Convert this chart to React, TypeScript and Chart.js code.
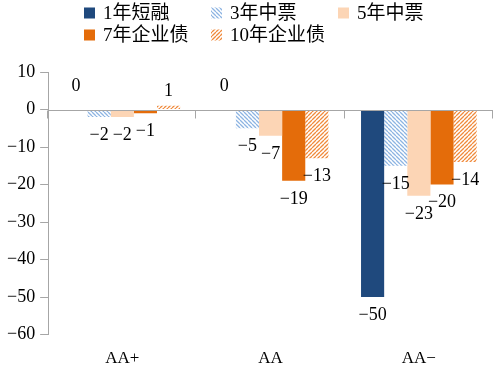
import React, { useEffect, useRef } from "react";
import { Chart, registerables } from "chart.js";

Chart.register(...registerables);

const categories = ["AA+", "AA", "AA\u2212"];
const seriesNames = ["1年短融", "3年中票", "5年中票", "7年企业债", "10年企业债"];
const shortTerm1Y = [0, 0, -50];
const mtn3Y = [-2, -5, -15];
const mtn5Y = [-2, -7, -23];
const corp7Y = [-1, -19, -20];
const corp10Y = [1, -13, -14];
const yMin = -60;
const yMax = 10;
const yStep = 10;

const FONT = "'Liberation Serif', 'Times New Roman', 'Noto Sans CJK SC', serif";
const AXIS_GRAY = "#a6a6a6";

function hatch(color: string, dir: "back" | "fwd"): CanvasPattern | string {
  const size = 4;
  const c = document.createElement("canvas");
  c.width = size;
  c.height = size;
  const g = c.getContext("2d");
  if (!g) return color;
  g.fillStyle = "#ffffff";
  g.fillRect(0, 0, size, size);
  g.strokeStyle = color;
  g.lineWidth = 1.3;
  g.beginPath();
  for (const k of [-size, 0, size]) {
    if (dir === "back") {
      g.moveTo(k, 0);
      g.lineTo(k + size, size);
    } else {
      g.moveTo(k, size);
      g.lineTo(k + size, 0);
    }
  }
  g.stroke();
  const p = g.createPattern(c, "repeat");
  return p || color;
}

const fmt = (v: number) => String(v).replace("-", "\u2212");

const legendPlugin = {
  id: "gridLegend",
  afterDraw(chart: any) {
    const ctx = chart.ctx;
    const left = 84;
    const colW = 127;
    const rowH = 22;
    const top = 13;
    ctx.save();
    ctx.font = `19px ${FONT}`;
    ctx.textBaseline = "middle";
    ctx.textAlign = "left";
    chart.data.datasets.forEach((ds: any, i: number) => {
      const col = i % 3;
      const row = Math.floor(i / 3);
      const x = left + col * colW;
      const y = top + row * rowH;
      ctx.fillStyle = ds.backgroundColor;
      ctx.fillRect(x, y - 5.5, 11, 11);
      ctx.fillStyle = "#000";
      ctx.fillText(ds.label, x + 19, y + 1);
    });
    ctx.restore();
  },
};

const zeroAxisPlugin = {
  id: "zeroAxis",
  afterDatasetsDraw(chart: any) {
    const { ctx, chartArea, scales } = chart;
    const y0 = Math.round(scales.y.getPixelForValue(0)) + 0.5;
    ctx.save();
    ctx.strokeStyle = AXIS_GRAY;
    ctx.lineWidth = 1;
    ctx.beginPath();
    ctx.moveTo(chartArea.left, y0);
    ctx.lineTo(chartArea.right, y0);
    const n = chart.data.labels.length;
    const w = (chartArea.right - chartArea.left) / n;
    for (let i = 0; i <= n; i++) {
      const x = Math.round(chartArea.left + i * w) - 0.5;
      ctx.moveTo(x, y0);
      ctx.lineTo(x, y0 + 8);
    }
    ctx.stroke();
    ctx.restore();
  },
};

const labelPlugin = {
  id: "barLabels",
  afterDatasetsDraw(chart: any) {
    const ctx = chart.ctx;
    ctx.save();
    ctx.font = `18px ${FONT}`;
    ctx.fillStyle = "#000";
    ctx.textAlign = "center";
    ctx.textBaseline = "middle";
    chart.data.datasets.forEach((ds: any, di: number) => {
      const meta = chart.getDatasetMeta(di);
      meta.data.forEach((bar: any, i: number) => {
        const v = ds.data[i];
        const yEnd = bar.y;
        const y = v < 0 ? yEnd + 18 : v === 0 ? yEnd - 23 : yEnd - 14;
        ctx.fillText(fmt(v), bar.x, y);
      });
    });
    ctx.restore();
  },
};

export default function App() {
  const ref = useRef<HTMLCanvasElement | null>(null);

  useEffect(() => {
    if (!ref.current) return;
    const colors = [
      "#1f497d",
      hatch("#8db4e2", "back"),
      "#fcd5b5",
      "#e46c0a",
      hatch("#f08a3c", "fwd"),
    ];
    const series = [shortTerm1Y, mtn3Y, mtn5Y, corp7Y, corp10Y];
    const chart = new Chart(ref.current, {
      type: "bar",
      data: {
        labels: categories,
        datasets: series.map((d, i) => ({
          label: seriesNames[i],
          data: d,
          backgroundColor: colors[i] as any,
          borderWidth: 0,
          categoryPercentage: 0.78,
          barPercentage: 1,
        })),
      },
      options: {
        animation: false,
        responsive: false,
        maintainAspectRatio: false,
        layout: { padding: { top: 72, left: 2, right: 4, bottom: -6 } },
        plugins: {
          legend: { display: false },
          tooltip: { enabled: false },
        },
        scales: {
          x: {
            grid: { display: false, drawTicks: false },
            border: { display: false },
            ticks: {
              color: "#000",
              font: { family: FONT, size: 17 },
              padding: 14,
            },
          },
          y: {
            min: yMin,
            max: yMax,
            ticks: {
              stepSize: yStep,
              color: "#000",
              font: { family: FONT, size: 18 },
              padding: 5,
              callback: (v: any) => fmt(Number(v)),
            },
            grid: {
              drawOnChartArea: false,
              color: AXIS_GRAY,
              tickLength: 8,
            },
            border: { display: true, color: AXIS_GRAY },
          },
        },
      },
      plugins: [legendPlugin, zeroAxisPlugin, labelPlugin],
    });
    return () => chart.destroy();
  }, []);

  return (
    <div style={{ position: "fixed", left: 0, top: 0, width: 497, height: 377, background: "#fff" }}>
      <canvas ref={ref} width={497} height={377} style={{ width: 497, height: 377 }} />
    </div>
  );
}
